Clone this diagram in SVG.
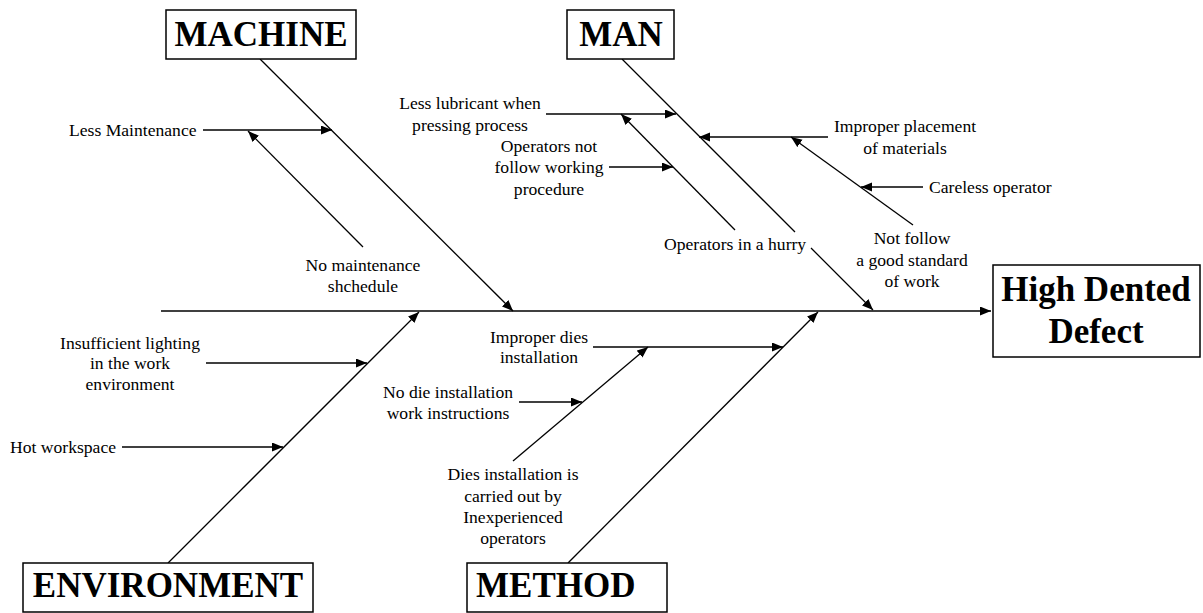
<svg xmlns="http://www.w3.org/2000/svg" width="1203" height="613" viewBox="0 0 1203 613">
<defs>
<marker id="ah" markerUnits="userSpaceOnUse" markerWidth="12" markerHeight="10" refX="11" refY="4.5" orient="auto">
<path d="M0,0 L11,4.5 L0,9 z" fill="#000"/>
</marker>
</defs>
<style>
.box{fill:#fff;stroke:#000;stroke-width:1.5}
.big{font-family:"Liberation Serif","Times New Roman",serif;font-weight:bold;font-size:35px;fill:#000}
.lbl{font-family:"Liberation Serif","Times New Roman",serif;font-size:17.6px;fill:#000}
.c{text-anchor:middle}
.ln{stroke:#000;stroke-width:1.3;fill:none;marker-end:url(#ah)}
</style>
<rect width="1203" height="613" fill="#fff"/>
<g id="connectors">
<path class="ln" d="M161,311 L991,311"/>
<path class="ln" d="M260,59 L513,311"/>
<path class="ln" d="M203,130 L332,130"/>
<path class="ln" d="M363,247 L248,131"/>
<path class="ln" d="M622,59 L795,232 M811,248 L873,310"/>
<path class="ln" d="M546,114 L676,114"/>
<path class="ln" d="M735,230 L621,114"/>
<path class="ln" d="M609,167 L673,167"/>
<path class="ln" d="M828,137 L699,137"/>
<path class="ln" d="M913,225 L791,137"/>
<path class="ln" d="M923,187 L861,187"/>
<path class="ln" d="M168,563 L419,312"/>
<path class="ln" d="M206,363 L367,363"/>
<path class="ln" d="M122,447 L283,447"/>
<path class="ln" d="M568,563 L818,312"/>
<path class="ln" d="M593,347 L783,347"/>
<path class="ln" d="M513,461 L648,347"/>
<path class="ln" d="M519,402 L582,402"/>
</g>
<g id="machine">
<rect class="box" x="166" y="10" width="190" height="49"/>
<text class="big c" x="261" y="46">MACHINE</text>
</g>
<g id="man">
<rect class="box" x="567" y="10" width="107" height="49"/>
<text class="big c" x="621" y="46">MAN</text>
</g>
<g id="environment">
<rect class="box" x="23" y="563" width="290" height="49"/>
<text class="big c" x="168" y="597">ENVIRONMENT</text>
</g>
<g id="method">
<rect class="box" x="467" y="563" width="200" height="49"/>
<text class="big" x="476" y="597">METHOD</text>
</g>
<g id="effect">
<rect class="box" x="993" y="265" width="207" height="92"/>
<text class="big c" x="1096" y="301">High Dented</text>
<text class="big c" x="1096" y="343">Defect</text>
</g>
<g id="labels">
<text class="lbl" x="69" y="136">Less Maintenance</text>
<text class="lbl c" x="363" y="271">No maintenance</text>
<text class="lbl c" x="363" y="292">shchedule</text>
<text class="lbl c" x="470" y="109">Less lubricant when</text>
<text class="lbl c" x="470" y="131">pressing process</text>
<text class="lbl c" x="549" y="152">Operators not</text>
<text class="lbl c" x="549" y="173">follow working</text>
<text class="lbl c" x="549" y="195">procedure</text>
<text class="lbl" x="664" y="250">Operators in a hurry</text>
<text class="lbl c" x="905" y="132">Improper placement</text>
<text class="lbl c" x="905" y="154">of materials</text>
<text class="lbl" x="929" y="193">Careless operator</text>
<text class="lbl c" x="912" y="244">Not follow</text>
<text class="lbl c" x="912" y="266">a good standard</text>
<text class="lbl c" x="912" y="287">of work</text>
<text class="lbl c" x="130" y="349">Insufficient lighting</text>
<text class="lbl c" x="130" y="369">in the work</text>
<text class="lbl c" x="130" y="390">environment</text>
<text class="lbl" x="10" y="453">Hot workspace</text>
<text class="lbl c" x="539" y="343">Improper dies</text>
<text class="lbl c" x="539" y="363">installation</text>
<text class="lbl c" x="448" y="398">No die installation</text>
<text class="lbl c" x="448" y="419">work instructions</text>
<text class="lbl c" x="513" y="480">Dies installation is</text>
<text class="lbl c" x="513" y="502">carried out by</text>
<text class="lbl c" x="513" y="523">Inexperienced</text>
<text class="lbl c" x="513" y="544">operators</text>
</g>
</svg>
